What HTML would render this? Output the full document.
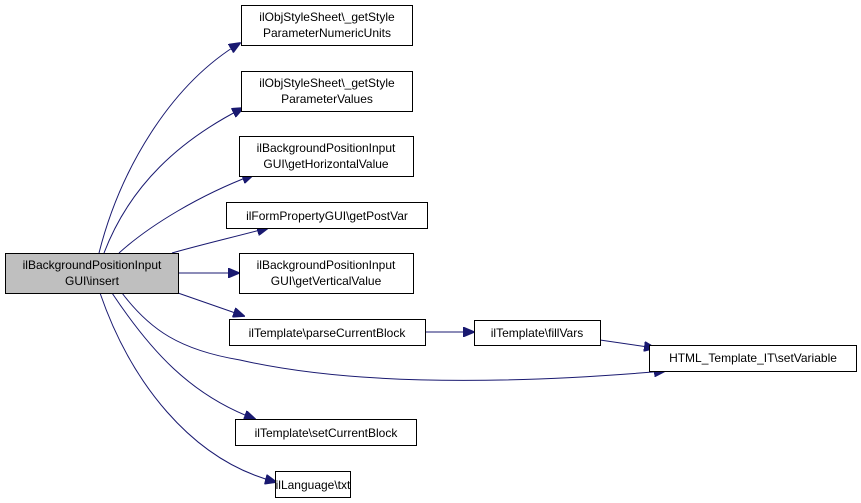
<!DOCTYPE html>
<html><head><meta charset="utf-8"><style>
html,body{margin:0;padding:0;background:#fff;}
svg{display:block;}
text{font-family:"Liberation Sans",sans-serif;font-size:12px;fill:#000;}
</style></head><body>
<svg width="861" height="503" viewBox="0 0 861 503" xmlns="http://www.w3.org/2000/svg">
<defs>
<marker id="a" markerWidth="12" markerHeight="10" refX="11" refY="5" orient="auto" markerUnits="userSpaceOnUse">
<path d="M0,0 L12,5 L0,10 z" fill="#191970" stroke="#191970"/>
</marker>
</defs>
<g fill="none" stroke="#191970" stroke-width="1" marker-end="url(#a)">
<path d="M99,253 C120,170 170,85 240,43"/>
<path d="M104,253 C130,185 180,140 243,108"/>
<path d="M119,253 C150,225 200,195 253,175"/>
<path d="M172,253 C200,245 230,238 268,228"/>
<path d="M178,273 L239,273"/>
<path d="M178,293 L244,316"/>
<path d="M380,332 L474,332"/>
<path d="M600,340 L655,348"/>
<path d="M122,293 C150,330 180,350 240,360 C350,385 500,385 665,371"/>
<path d="M112,293 C150,350 190,395 255,419"/>
<path d="M100,293 C130,380 190,460 276,482"/>
</g>
<g stroke="#000" stroke-width="1" fill="#fff">
<rect x="5.5" y="253.5" width="173" height="40" fill="#bfbfbf"/>
<rect x="241.5" y="5.5" width="171" height="40"/>
<rect x="241.5" y="71.5" width="171" height="40"/>
<rect x="239.5" y="136.5" width="174" height="40"/>
<rect x="226.5" y="202.5" width="201" height="26"/>
<rect x="239.5" y="253.5" width="174" height="40"/>
<rect x="229.5" y="319.5" width="196" height="26"/>
<rect x="474.5" y="320.5" width="126" height="25"/>
<rect x="649.5" y="345.5" width="207" height="26"/>
<rect x="235.5" y="419.5" width="181" height="26"/>
<rect x="275.5" y="471.5" width="75" height="26"/>
</g>
<g text-anchor="middle">
<text x="92" y="269">ilBackgroundPositionInput</text><text x="92" y="285">GUI\insert</text>
<text x="327" y="21">ilObjStyleSheet\_getStyle</text><text x="327" y="37">ParameterNumericUnits</text>
<text x="327" y="87">ilObjStyleSheet\_getStyle</text><text x="327" y="103">ParameterValues</text>
<text x="326" y="152">ilBackgroundPositionInput</text><text x="326" y="168">GUI\getHorizontalValue</text>
<text x="327" y="220">ilFormPropertyGUI\getPostVar</text>
<text x="326" y="269">ilBackgroundPositionInput</text><text x="326" y="285">GUI\getVerticalValue</text>
<text x="327" y="337">ilTemplate\parseCurrentBlock</text>
<text x="537" y="337">ilTemplate\fillVars</text>
<text x="753" y="362">HTML_Template_IT\setVariable</text>
<text x="326" y="437">ilTemplate\setCurrentBlock</text>
<text x="313" y="489">ilLanguage\txt</text>
</g>
</svg>
</body></html>
